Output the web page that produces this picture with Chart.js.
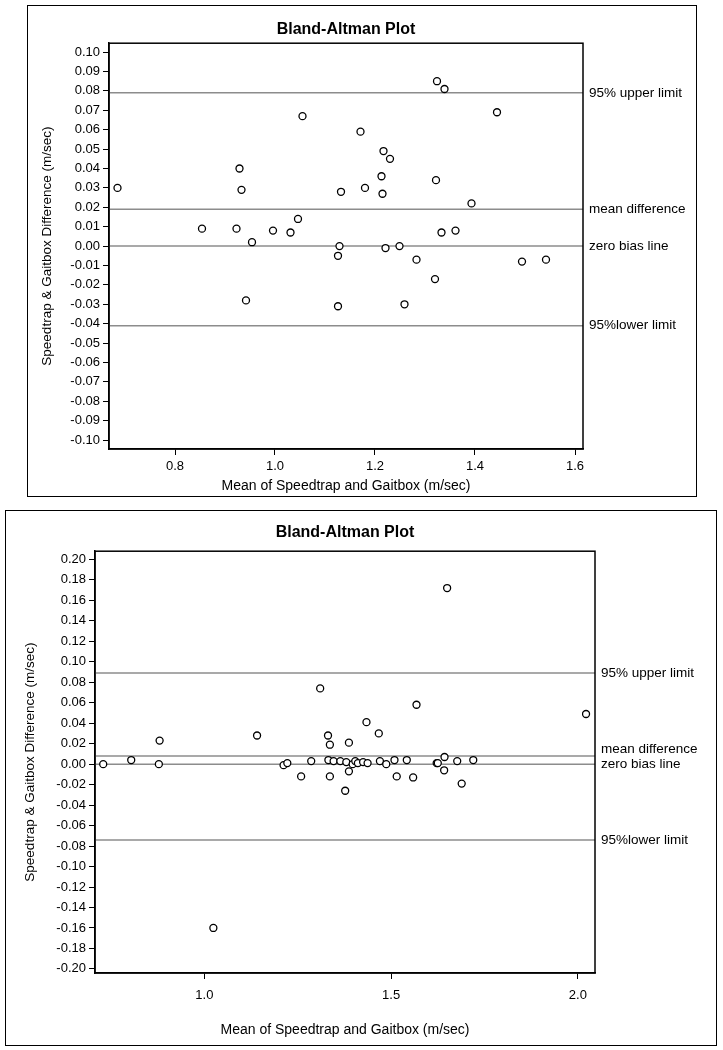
<!DOCTYPE html>
<html>
<head>
<meta charset="utf-8">
<title>Bland-Altman Plots</title>
<script src="https://cdn.jsdelivr.net/npm/chart.js@4.4.1/dist/chart.umd.min.js"></script>
<style>
    body { margin: 0; background: #fff; }
    .panel { position: absolute; border: 1px solid #000; box-sizing: border-box; background: #fff; }
    .panel canvas { position: absolute; left: 0; top: 0; }
</style>
</head>
<body>
<div class="panel" style="left:27px;top:5px;width:670px;height:492px;">
    <canvas id="chartTop" width="668" height="490"></canvas>
</div>
<div class="panel" style="left:5px;top:510px;width:712px;height:536px;">
    <canvas id="chartBottom" width="710" height="534"></canvas>
</div>
<script>
// ============================================
// DATA
// ============================================
const FONT = "'Liberation Sans', Arial, sans-serif";

const limitLabels = ['95% upper limit', 'mean difference', 'zero bias line', '95%lower limit'];

// top plot
const topMean = [0.685, 0.854, 0.923, 0.929, 0.933, 0.942, 0.954, 0.996, 1.031, 1.046,
                 1.055, 1.126, 1.126, 1.129, 1.132, 1.171, 1.180, 1.213, 1.215, 1.217,
                 1.221, 1.230, 1.249, 1.259, 1.283, 1.320, 1.322, 1.324, 1.333, 1.339,
                 1.361, 1.393, 1.444, 1.494, 1.542];
const topDiff = [0.030, 0.009, 0.009, 0.040, 0.029, -0.028, 0.002, 0.008, 0.007, 0.014,
                 0.067, -0.005, -0.031, 0.000, 0.028, 0.059, 0.030, 0.036, 0.027, 0.049,
                 -0.001, 0.045, 0.000, -0.030, -0.007, -0.017, 0.034, 0.085, 0.007, 0.081,
                 0.008, 0.022, 0.069, -0.008, -0.007];
const topLimits = [0.079, 0.019, 0, -0.041];
const topXTicks = [0.8, 1.0, 1.2, 1.4, 1.6];
const topYTicks = [0.10, 0.09, 0.08, 0.07, 0.06, 0.05, 0.04, 0.03, 0.02, 0.01, 0.00,
                   -0.01, -0.02, -0.03, -0.04, -0.05, -0.06, -0.07, -0.08, -0.09, -0.10];

// bottom plot
const bottomMean = [0.729, 0.804, 0.878, 0.880, 1.024, 1.141, 1.212, 1.222, 1.259, 1.286,
                    1.310, 1.331, 1.336, 1.332, 1.336, 1.346, 1.364, 1.377, 1.380, 1.387,
                    1.387, 1.397, 1.404, 1.411, 1.425, 1.434, 1.437, 1.467, 1.470, 1.487,
                    1.509, 1.515, 1.542, 1.559, 1.568, 1.622, 1.625, 1.643, 1.642, 1.650,
                    1.677, 1.689, 1.720, 2.022];
const bottomDiff = [0.000, 0.004, 0.000, 0.023, -0.160, 0.028, -0.001, 0.001, -0.012, 0.003,
                    0.074, 0.028, 0.019, 0.004, -0.012, 0.003, 0.003, -0.026, 0.002, 0.021,
                    -0.007, 0.000, 0.003, 0.001, 0.002, 0.041, 0.001, 0.030, 0.003, 0.000,
                    0.004, -0.012, 0.004, -0.013, 0.058, 0.001, 0.001, 0.007, -0.006, 0.172,
                    0.003, -0.019, 0.004, 0.049];
const bottomLimits = [0.089, 0.008, 0, -0.074];
const bottomXTicks = [1.0, 1.5, 2.0];
const bottomYTicks = [0.20, 0.18, 0.16, 0.14, 0.12, 0.10, 0.08, 0.06, 0.04, 0.02, 0.00,
                      -0.02, -0.04, -0.06, -0.08, -0.10, -0.12, -0.14, -0.16, -0.18, -0.20];

// ============================================
// PLUGIN: limit lines, frame, right labels
// ============================================
const limitLinesPlugin = {
    id: 'limitLines',
    beforeDatasetsDraw(chart, args, opts) {
        const { ctx, chartArea } = chart;
        const yScale = chart.scales.y;
        ctx.save();
        ctx.strokeStyle = '#8c8c8c';
        ctx.lineWidth = 1.5;
        opts.values.forEach(v => {
            const py = yScale.getPixelForValue(v);
            ctx.beginPath();
            ctx.moveTo(chartArea.left, py);
            ctx.lineTo(chartArea.right, py);
            ctx.stroke();
        });
        ctx.restore();
    },
    afterDraw(chart, args, opts) {
        const { ctx, chartArea } = chart;
        const yScale = chart.scales.y;
        ctx.save();
        ctx.strokeStyle = '#000';
        ctx.lineWidth = 1.5;
        ctx.strokeRect(chartArea.left, chartArea.top,
            chartArea.right - chartArea.left, chartArea.bottom - chartArea.top);

        // keep labels from overlapping: push the upper one up
        const ys = opts.values.map(v => yScale.getPixelForValue(v));
        for (let i = ys.length - 2; i >= 0; i--) {
            if (ys[i + 1] - ys[i] < 15) ys[i] = ys[i + 1] - 15;
        }
        ctx.font = '13.5px ' + FONT;
        ctx.fillStyle = '#000';
        ctx.textAlign = 'left';
        ctx.textBaseline = 'middle';
        opts.labels.forEach((t, i) => ctx.fillText(t, chartArea.right + 6, ys[i]));
        ctx.restore();
    }
};

// ============================================
// CHART BUILDER
// ============================================
function makeChart(id, xs, ys, o) {
    const points = xs.map((x, i) => ({ x: x, y: ys[i] }));
    return new Chart(document.getElementById(id), {
        type: 'scatter',
        data: {
            datasets: [{
                data: points,
                pointRadius: 3.5,
                pointBorderWidth: 1.3,
                pointBorderColor: '#000',
                pointBackgroundColor: '#fff'
            }]
        },
        plugins: [limitLinesPlugin],
        options: {
            responsive: false,
            animation: false,
            devicePixelRatio: 1,
            layout: { padding: { left: 0, top: 0, bottom: 0, right: o.padRight } },
            plugins: {
                legend: { display: false },
                tooltip: { enabled: false },
                title: {
                    display: true,
                    text: 'Bland-Altman Plot',
                    fullSize: false,
                    color: '#000',
                    font: { family: FONT, size: 16, weight: 'bold' },
                    padding: o.titlePad
                },
                limitLines: { values: o.limits, labels: limitLabels }
            },
            scales: {
                x: {
                    type: 'linear',
                    min: o.xMin,
                    max: o.xMax,
                    afterFit: s => { s.height = o.xHeight; },
                    afterBuildTicks: s => { s.ticks = o.xTicks.map(v => ({ value: v })); },
                    ticks: {
                        color: '#000',
                        font: { family: FONT, size: 13 },
                        padding: o.xTickPad,
                        autoSkip: false,
                        maxRotation: 0,
                        callback: v => Number(v).toFixed(1)
                    },
                    grid: { drawOnChartArea: false, drawTicks: true, tickLength: 6, color: '#000' },
                    border: { display: true, color: '#000', width: 1.5 },
                    title: {
                        display: true,
                        text: 'Mean of Speedtrap and Gaitbox (m/sec)',
                        color: '#000',
                        font: { family: FONT, size: 14 },
                        padding: { top: 0, bottom: o.xTitlePad }
                    }
                },
                y: {
                    type: 'linear',
                    min: o.yMin,
                    max: o.yMax,
                    afterFit: s => { s.width = o.yWidth; },
                    afterBuildTicks: s => { s.ticks = o.yTicks.map(v => ({ value: v })); },
                    ticks: {
                        color: '#000',
                        font: { family: FONT, size: 13 },
                        padding: 3,
                        autoSkip: false,
                        callback: v => Number(v).toFixed(2)
                    },
                    grid: { drawOnChartArea: false, drawTicks: true, tickLength: 6, color: '#000' },
                    border: { display: true, color: '#000', width: 1.5 },
                    title: {
                        display: true,
                        text: 'Speedtrap & Gaitbox Difference (m/sec)',
                        color: '#000',
                        font: { family: FONT, size: 13.5 },
                        padding: { top: o.yTitlePad, bottom: 0 }
                    }
                }
            }
        }
    });
}

makeChart('chartTop', topMean, topDiff, {
    xMin: 0.668, xMax: 1.616, xTicks: topXTicks,
    yMin: -0.1046, yMax: 0.1046, yTicks: topYTicks,
    limits: topLimits,
    padRight: 113, yWidth: 81, xHeight: 47,
    titlePad: { top: 14, bottom: 4 },
    xTickPad: 4, xTitlePad: 1, yTitlePad: 11
});

makeChart('chartBottom', bottomMean, bottomDiff, {
    xMin: 0.707, xMax: 2.046, xTicks: bottomXTicks,
    yMin: -0.204, yMax: 0.208, yTicks: bottomYTicks,
    limits: bottomLimits,
    padRight: 121, yWidth: 89, xHeight: 72,
    titlePad: { top: 12, bottom: 9 },
    xTickPad: 9, xTitlePad: 6, yTitlePad: 16
});
</script>
</body>
</html>
